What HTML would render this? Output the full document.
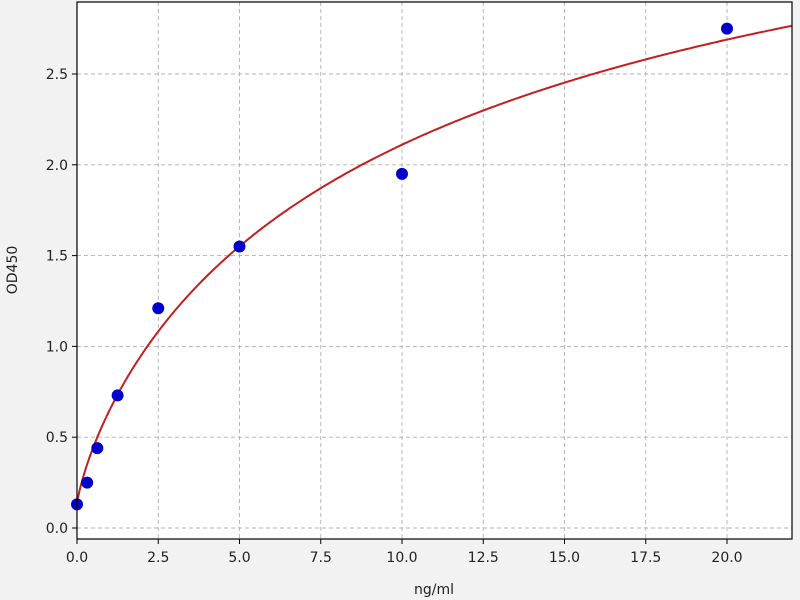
<!DOCTYPE html>
<html><head><meta charset="utf-8"><style>
body{margin:0;background:#f2f2f2;}
svg{display:block;font-family:"DejaVu Sans","Liberation Sans",sans-serif;}
</style></head><body>
<svg id="s" width="800" height="600" xmlns="http://www.w3.org/2000/svg">
<rect x="0" y="0" width="800" height="600" fill="#f2f2f2"/>
<rect x="77" y="2" width="715" height="537" fill="#fff"/>
<g id="grid" stroke="#b0b0b0" stroke-dasharray="4,3" stroke-width="0.9"></g>
<g id="ticks" font-size="14" fill="#222"></g>
<path id="curve" fill="none" stroke="#c41e1e" stroke-width="2"/>
<g id="pts" fill="#0000cc"></g>
<rect x="77" y="2" width="715" height="537" fill="none" stroke="#000" stroke-width="1.2"/>
<text x="434" y="594" font-size="14" text-anchor="middle" fill="#222">ng/ml</text>
<text transform="translate(17,270) rotate(-90)" font-size="14" text-anchor="middle" fill="#222">OD450</text>
</svg>
<script>
const X=x=>77+x*32.5, Y=y=>528-y*181.6, ns="http://www.w3.org/2000/svg";
function el(p,t,a,txt){const e=document.createElementNS(ns,t);for(const k in a)e.setAttribute(k,a[k]);if(txt)e.textContent=txt;document.getElementById(p).appendChild(e);}
for(let i=0;i<=8;i++){const v=i*2.5,x=X(v);el('grid','line',{x1:x,x2:x,y1:2,y2:539});
el('ticks','line',{x1:x,x2:x,y1:539,y2:544,stroke:'#000'});el('ticks','text',{x:x,y:562,'text-anchor':'middle'},v.toFixed(1));}
for(let i=0;i<=5;i++){const v=i*0.5,y=Y(v);el('grid','line',{x1:77,x2:792,y1:y,y2:y});
el('ticks','line',{x1:72,x2:77,y1:y,y2:y,stroke:'#000'});el('ticks','text',{x:68,y:y+5,'text-anchor':'end'},v.toFixed(1));}
let d='';for(let i=0;i<=400;i++){const x=22*Math.pow(i/400,1.5),p=Math.pow(x,0.8),y=0.13+4.225*p/(7.15+p);d+=(i?'L':'M')+X(x).toFixed(1)+','+Y(y).toFixed(1);}
document.getElementById('curve').setAttribute('d',d);
[[0,0.13],[0.3125,0.25],[0.625,0.44],[1.25,0.73],[2.5,1.21],[5,1.55],[10,1.95],[20,2.75]].forEach(p=>el('pts','circle',{cx:X(p[0]),cy:Y(p[1]),r:6}));
</script>
</body></html>
